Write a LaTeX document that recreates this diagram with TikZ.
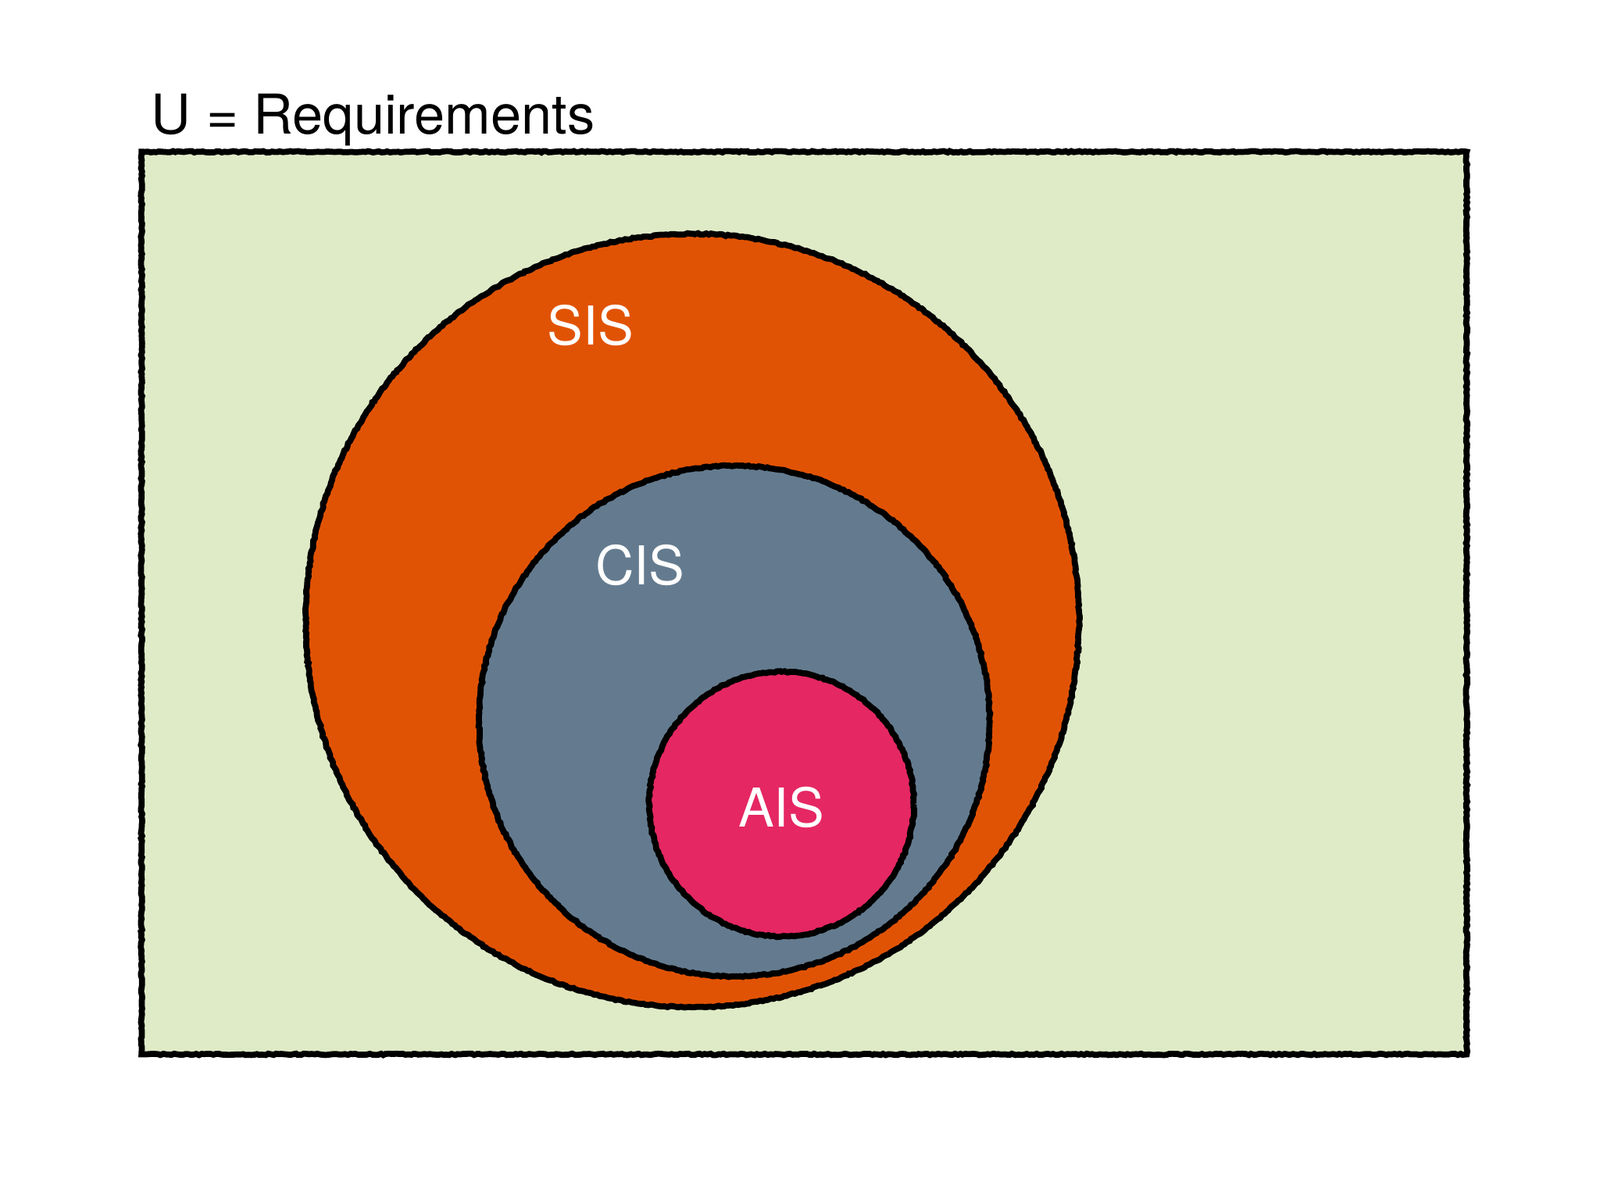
\documentclass[tikz,border=0pt]{standalone}
\usepackage{fontspec}
\setmainfont{TeX Gyre Heros}
\usetikzlibrary{decorations.pathmorphing}
\definecolor{bggreen}{HTML}{DFEBC7}
\definecolor{sisorange}{HTML}{E15304}
\definecolor{cisblue}{HTML}{647B8F}
\definecolor{aispink}{HTML}{E52763}
\tikzset{rough/.style={draw=black,line width=2.2pt,decorate,decoration={random steps,segment length=1pt,amplitude=0.25pt}},
lab/.style={text=white,font=\fontsize{19.5}{23}\selectfont,inner sep=0}}
\begin{document}
\begin{tikzpicture}[x=0.013128cm,y=-0.013128cm]
\useasboundingbox (0,0) rectangle (1560,1170);
\fill[white] (0,0) rectangle (1560,1170);
\filldraw[fill=bggreen,rough] (138,148) rectangle (1430,1028);
\node[anchor=base west,inner sep=0,font=\fontsize{20}{24}\selectfont] (title) at (147,131) {U = Requirements};
\filldraw[fill=sisorange,rough] (675,605) circle (377);
\filldraw[fill=cisblue,rough] (716,703) circle (249);
\filldraw[fill=aispink,rough] (762,784) circle (129);
\node[lab] (sis) at (576,317) {SIS};
\node[lab] (cis) at (624,551) {CIS};
\node[lab] (ais) at (762,787) {AIS};
\end{tikzpicture}
\end{document}
